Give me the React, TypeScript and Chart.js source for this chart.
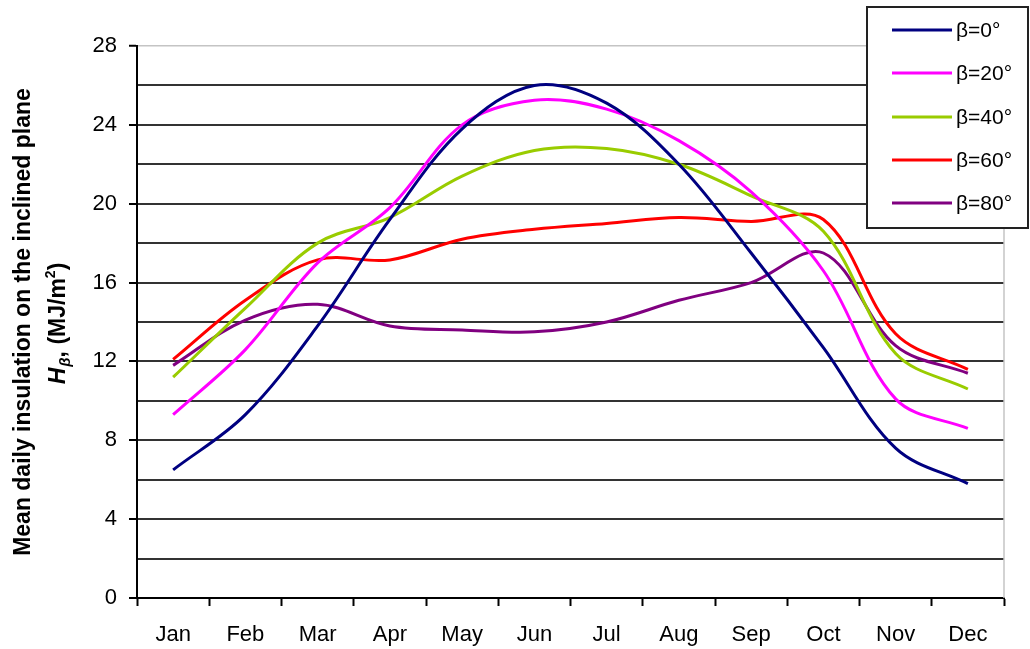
import { useEffect, useRef } from 'react';
import { Chart, registerables } from 'chart.js';

Chart.register(...registerables);

const months = ['Jan', 'Feb', 'Mar', 'Apr', 'May', 'Jun', 'Jul', 'Aug', 'Sep', 'Oct', 'Nov', 'Dec'];
const seriesLabels = ['β=0°', 'β=20°', 'β=40°', 'β=60°', 'β=80°'];
const beta0 = [6.5, 9.3, 13.8, 19.2, 23.8, 26.0, 25.1, 22.0, 17.5, 12.7, 7.6, 5.8];
const beta20 = [9.3, 12.6, 17.0, 19.8, 24.0, 25.25, 24.8, 23.2, 20.6, 16.6, 10.1, 8.6];
const beta40 = [11.2, 14.7, 18.0, 19.3, 21.4, 22.7, 22.8, 22.0, 20.4, 18.6, 12.4, 10.6];
const beta60 = [12.1, 15.1, 17.15, 17.15, 18.2, 18.7, 19.0, 19.3, 19.1, 19.2, 13.4, 11.6];
const beta80 = [11.8, 14.1, 14.9, 13.8, 13.6, 13.5, 14.0, 15.1, 16.0, 17.5, 12.8, 11.4];
const seriesColors = ['#000080', '#FF00FF', '#99CC00', '#FF0000', '#800080'];
const yMin = 0;
const yMax = 28;
const yGridStep = 2;
const yLabelStep = 4;
const yTitleLine1 = 'Mean daily insulation on the inclined plane';

const FONT = '"Liberation Sans", Arial, sans-serif';

export default function App() {
  const ref = useRef<HTMLCanvasElement>(null);

  useEffect(() => {
    const canvas = ref.current;
    if (!canvas) return;
    const allSeries = [beta0, beta20, beta40, beta60, beta80];

    const decor = {
      id: 'decor',
      beforeDatasetsDraw(chart: any) {
        const ctx = chart.ctx;
        const { right, top, bottom } = chart.chartArea;
        ctx.save();
        ctx.strokeStyle = '#c4c4c4';
        ctx.lineWidth = 1.5;
        ctx.beginPath();
        ctx.moveTo(right, top);
        ctx.lineTo(right, bottom);
        ctx.stroke();
        ctx.restore();
      },
      afterDraw(chart: any) {
        const ctx = chart.ctx;
        const { top, bottom } = chart.chartArea;
        const midY = (top + bottom) / 2;
        ctx.save();

        // Legend box
        const bx = 867, by = 7, bw = 161, bh = 221;
        ctx.fillStyle = '#ffffff';
        ctx.fillRect(bx, by, bw, bh);
        ctx.strokeStyle = '#222222';
        ctx.lineWidth = 2;
        ctx.strokeRect(bx, by, bw, bh);
        const rowY = [30, 73, 117, 160, 203];
        ctx.font = `21px ${FONT}`;
        ctx.textBaseline = 'middle';
        ctx.textAlign = 'left';
        seriesLabels.forEach((lab, i) => {
          ctx.strokeStyle = seriesColors[i];
          ctx.lineWidth = 3;
          ctx.beginPath();
          ctx.moveTo(892, rowY[i]);
          ctx.lineTo(952, rowY[i]);
          ctx.stroke();
          ctx.fillStyle = '#000';
          ctx.fillText(lab, 956, rowY[i] + 1);
        });

        // Y-axis title
        ctx.fillStyle = '#000';
        ctx.save();
        ctx.translate(30, midY);
        ctx.rotate(-Math.PI / 2);
        ctx.textBaseline = 'alphabetic';
        ctx.textAlign = 'center';
        ctx.font = `bold 23px ${FONT}`;
        ctx.fillText(yTitleLine1, 0, 0);
        ctx.restore();

        // second line: H_beta, (MJ/m^2)
        const parts = [
          { t: 'H', f: `italic bold 23px ${FONT}`, dy: 0 },
          { t: 'β', f: `italic bold 15px ${FONT}`, dy: 5 },
          { t: ', (MJ/m', f: `bold 23px ${FONT}`, dy: 0 },
          { t: '2', f: `bold 14px ${FONT}`, dy: -10 },
          { t: ')', f: `bold 23px ${FONT}`, dy: 0 },
        ];
        let total = 0;
        const widths = parts.map((p) => {
          ctx.font = p.f;
          const w = ctx.measureText(p.t).width;
          total += w;
          return w;
        });
        ctx.save();
        ctx.translate(65, midY + 2);
        ctx.rotate(-Math.PI / 2);
        ctx.textBaseline = 'alphabetic';
        ctx.textAlign = 'left';
        let x = -total / 2;
        parts.forEach((p, i) => {
          ctx.font = p.f;
          ctx.fillText(p.t, x, p.dy);
          x += widths[i] + (i === 0 ? 1 : 0);
        });
        ctx.restore();

        ctx.restore();
      },
    };

    const chart = new Chart(canvas, {
      type: 'line',
      data: {
        labels: months,
        datasets: allSeries.map((d, i) => ({
          label: seriesLabels[i],
          data: d,
          borderColor: seriesColors[i],
          backgroundColor: seriesColors[i],
          borderWidth: 3,
          pointRadius: 0,
          pointHoverRadius: 0,
          tension: 0.35,
          fill: false,
        })),
      },
      options: {
        animation: false,
        responsive: false,
        maintainAspectRatio: false,
        devicePixelRatio: 1,
        events: [],
        layout: { padding: { left: 0, top: 46, right: 26, bottom: 0 } },
        plugins: {
          legend: { display: false },
          tooltip: { enabled: false },
          title: { display: false },
        },
        scales: {
          x: {
            type: 'category',
            offset: true,
            afterFit: (s: any) => {
              s.height = 51;
            },
            grid: {
              display: true,
              drawOnChartArea: false,
              drawTicks: true,
              offset: true,
              tickLength: 8,
              tickColor: '#000',
              tickWidth: 2,
            },
            border: { display: true, color: '#000', width: 2 },
            ticks: {
              autoSkip: false,
              maxRotation: 0,
              padding: 16,
              color: '#000',
              font: { family: FONT, size: 22 },
            },
          },
          y: {
            min: yMin,
            max: yMax,
            afterFit: (s: any) => {
              s.width = 137;
            },
            grid: {
              color: (c: any) => (c.tick && c.tick.value === yMax ? '#c4c4c4' : '#333333'),
              lineWidth: (c: any) => (c.tick && c.tick.value === yMax ? 1.5 : 2),
              tickLength: 8,
              tickWidth: 2,
              tickColor: (c: any) =>
                c.tick && c.tick.value % yLabelStep === 0 ? '#000' : 'rgba(0,0,0,0)',
            },
            border: { display: true, color: '#000', width: 2 },
            ticks: {
              stepSize: yGridStep,
              autoSkip: false,
              padding: 12,
              color: '#000',
              font: { family: FONT, size: 22 },
              callback: (v: any) => (Number(v) % yLabelStep === 0 ? String(v) : ''),
            },
          },
        },
      },
      plugins: [decor],
    });

    return () => chart.destroy();
  }, []);

  return (
    <div style={{ position: 'fixed', left: 0, top: 0, width: 1030, height: 649, background: '#fff' }}>
      <canvas ref={ref} width={1030} height={649} style={{ display: 'block', width: 1030, height: 649 }} />
    </div>
  );
}
